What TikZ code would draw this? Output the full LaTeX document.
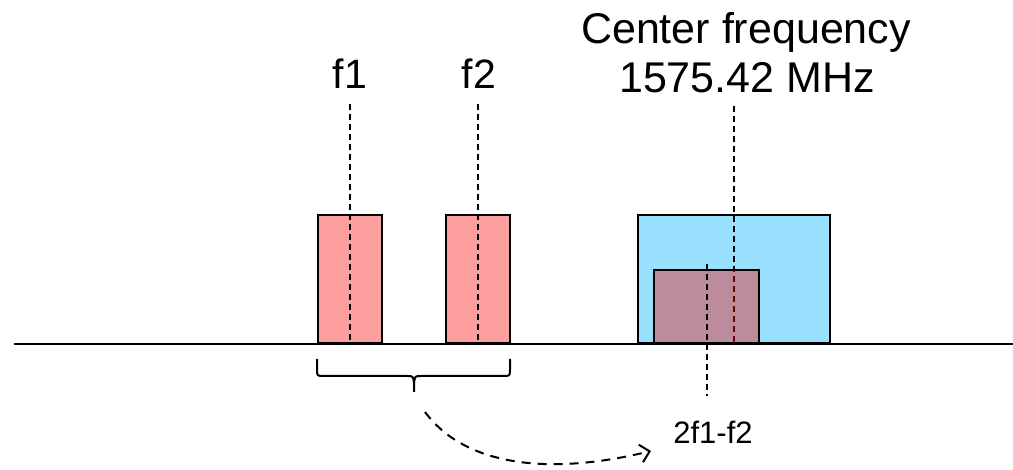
\documentclass[tikz,border=0pt]{standalone}
\usepackage{fontspec}
\setmainfont{Liberation Sans}
\usetikzlibrary{arrows.meta}
\definecolor{pinkfill}{HTML}{FFA0A0}
\definecolor{bluefill}{HTML}{99E0FF}
\definecolor{purplefill}{HTML}{BD8C9C}
\definecolor{darkline}{HTML}{6A0000}
\tikzset{
  boxline/.style={draw=black, line width=2pt},
  dashline/.style={line width=2pt, dash pattern=on 6pt off 4pt},
  bigtext/.style={font=\fontsize{41}{47}\selectfont, inner sep=0pt, anchor=base},
  cftext/.style={font=\fontsize{43}{49}\selectfont, inner sep=0pt, anchor=base},
  smalltext/.style={font=\fontsize{31}{35}\selectfont, inner sep=0pt, anchor=base},
  bracestyle/.style={line width=2pt, line join=round},
  curvearrow/.style={line width=2pt, dash pattern=on 9pt off 7pt, -{Straight Barb[length=9pt,width=18pt,line width=2pt]}}
}
\begin{document}
\begin{tikzpicture}[x=1pt,y=-1pt]
\useasboundingbox (0,0) rectangle (1013,470);
% boxes
\draw[boxline, fill=pinkfill] (318,215) rectangle (382,343);
\draw[boxline, fill=pinkfill] (446,215) rectangle (510,343);
\draw[boxline, fill=bluefill] (638,215) rectangle (830,343);
\draw[boxline, fill=purplefill] (654,270) rectangle (759,343);
% labels
\node[bigtext] (f1) at (350,89) {f1};
\node[bigtext] (f2) at (479,89) {f2};
\node[cftext] (cf1) at (746,44) {Center frequency};
\node[cftext] (cf2) at (747,93) {1575.42 MHz};
\node[smalltext] (im) at (713,444) {2f1-f2};
% dashed frequency markers
\coordinate (f1top) at (350,104);
\coordinate (f1bot) at (350,343);
\coordinate (f2top) at (478,104);
\coordinate (f2bot) at (478,343);
\coordinate (cftop) at (734,106);
\coordinate (cfbot) at (734,343);
\coordinate (imtop) at (707,264);
\coordinate (imbot) at (707,396);
\draw[dashline] (f1top) -- (f1bot);
\draw[dashline] (f2top) -- (f2bot);
\draw[dashline] (cftop) -- (cfbot);
\begin{scope}
  \clip (655,271) rectangle (758,342);
  \draw[dashline, darkline] (cftop) -- (cfbot);
\end{scope}
\draw[dashline] (imtop) -- (imbot);
% baseline
\coordinate (axl) at (14,344);
\coordinate (axr) at (1013,344);
\draw[line width=2.5pt] (axl) -- (axr);
% brace
\draw[bracestyle] (317,359) -- (317,369) .. controls (317,376) .. (324,376) -- (407,376) .. controls (413,376) .. (414,383) -- (414,392);
\draw[bracestyle] (414,383) .. controls (415,376) .. (421,376) -- (503,376) .. controls (510,376) .. (510,369) -- (510,359);
% curved arrow
\coordinate (arrs) at (425,412);
\coordinate (arre) at (651,451);
\draw[curvearrow] (arrs) .. controls (462,462) and (540,478) .. (arre);
\end{tikzpicture}
\end{document}
